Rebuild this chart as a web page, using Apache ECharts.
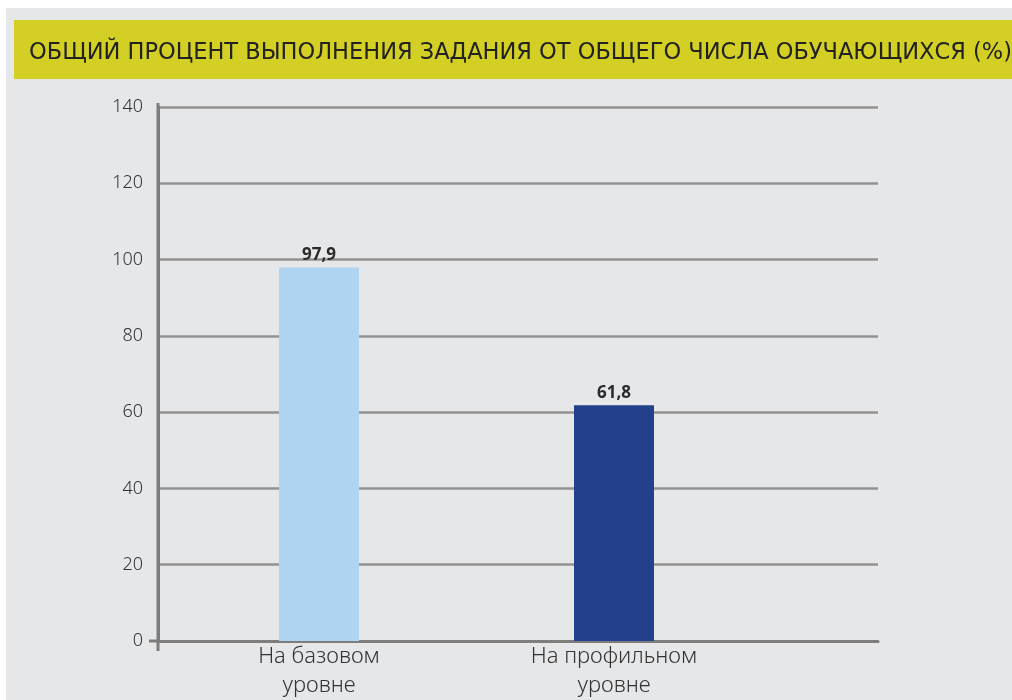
<!DOCTYPE html>
<html><head><meta charset="utf-8">
<script src="https://cdn.jsdelivr.net/npm/echarts@6/dist/echarts.min.js"></script>
<style>html,body{margin:0;padding:0;background:#fff}#c{width:1012px;height:700px}</style>
</head><body><div id="c"></div>
<script>
const titleText = 'ОБЩИЙ ПРОЦЕНТ ВЫПОЛНЕНИЯ ЗАДАНИЯ ОТ ОБЩЕГО ЧИСЛА ОБУЧАЮЩИХСЯ (%)';
const categories = ['На базовом\nуровне', 'На профильном\nуровне'];
const values = [97.9, 61.8];
const barColors = ['#afd4ef', '#23418a'];
const yMin = 0, yMax = 140, yStep = 20;

const chart = echarts.init(document.getElementById('c'), null, {renderer: 'canvas'});
const fontFam = '"Noto Sans", "DejaVu Sans", sans-serif';
const axisColor = '#7d7d7d';
chart.setOption({
  backgroundColor: '#ffffff',
  animation: false,
  graphic: [
    {type: 'rect', z: -10, shape: {x: 6, y: 8, width: 1006, height: 692}, style: {fill: '#e6e7e9'}},
    {type: 'rect', z: -9, shape: {x: 14, y: 20, width: 998, height: 59}, style: {fill: '#d3cf25'}}
  ],
  title: {
    text: titleText, left: 24, top: 37,
    textStyle: {fontFamily: '"DejaVu Sans", sans-serif', fontSize: 22.5, fontWeight: 'normal', color: '#222222'}
  },
  grid: [
    {left: 158, right: 134, top: 107, bottom: 59, containLabel: false, outerBoundsMode: 'none'},
    {left: 171.5, right: 250.5, top: 107, bottom: 59, containLabel: false, outerBoundsMode: 'none'}
  ],
  xAxis: [
    {type: 'category', gridIndex: 0, data: categories, show: true,
     axisLine: {show: true, lineStyle: {color: axisColor, width: 3}},
     axisTick: {show: false}, axisLabel: {show: false}},
    {type: 'category', gridIndex: 1, data: categories,
     axisLine: {show: false}, axisTick: {show: false},
     axisLabel: {fontFamily: fontFam, fontSize: 22, fontWeight: 300, color: '#333333', lineHeight: 29, margin: 1}}
  ],
  yAxis: [
    {type: 'value', gridIndex: 0, min: yMin, max: yMax, interval: yStep,
     axisLine: {show: true, lineStyle: {color: axisColor, width: 3}},
     axisTick: {show: false},
     splitLine: {lineStyle: {color: '#939393', width: 2.5}},
     axisLabel: {fontFamily: fontFam, fontSize: 18, fontWeight: 300, color: '#333333', margin: 15}},
    {type: 'value', gridIndex: 1, min: yMin, max: yMax, interval: yStep, show: false, splitLine: {show: false}}
  ],
  series: [{
    type: 'bar', xAxisIndex: 1, yAxisIndex: 1, barWidth: 80,
    data: values.map((v, i) => ({value: v, itemStyle: {color: barColors[i]}})),
    label: {show: true, position: 'top', distance: 4, formatter: p => String(p.value).replace('.', ','),
      fontFamily: fontFam, fontSize: 17, fontWeight: 'bold', color: '#2b2b2b'}
  }]
});

// axis end extensions, placed from the library's own scale
const y0 = chart.convertToPixel({yAxisIndex: 0}, yMin);
const yTop = chart.convertToPixel({yAxisIndex: 0}, yMax);
const x0 = chart.convertToPixel({xAxisIndex: 0}, 0) - (chart.convertToPixel({xAxisIndex: 0}, 1) - chart.convertToPixel({xAxisIndex: 0}, 0)) / 2;
chart.setOption({
  graphic: [
    {type: 'rect', z: -10, shape: {x: 6, y: 8, width: 1006, height: 692}, style: {fill: '#e6e7e9'}},
    {type: 'rect', z: -9, shape: {x: 14, y: 20, width: 998, height: 59}, style: {fill: '#d3cf25'}},
    {type: 'line', z: 5, shape: {x1: x0, y1: yTop - 4, x2: x0, y2: y0 + 10}, style: {stroke: axisColor, lineWidth: 3}},
    {type: 'line', z: 5, shape: {x1: x0 - 9, y1: y0, x2: x0, y2: y0}, style: {stroke: axisColor, lineWidth: 3}}
  ]
});
</script></body></html>
